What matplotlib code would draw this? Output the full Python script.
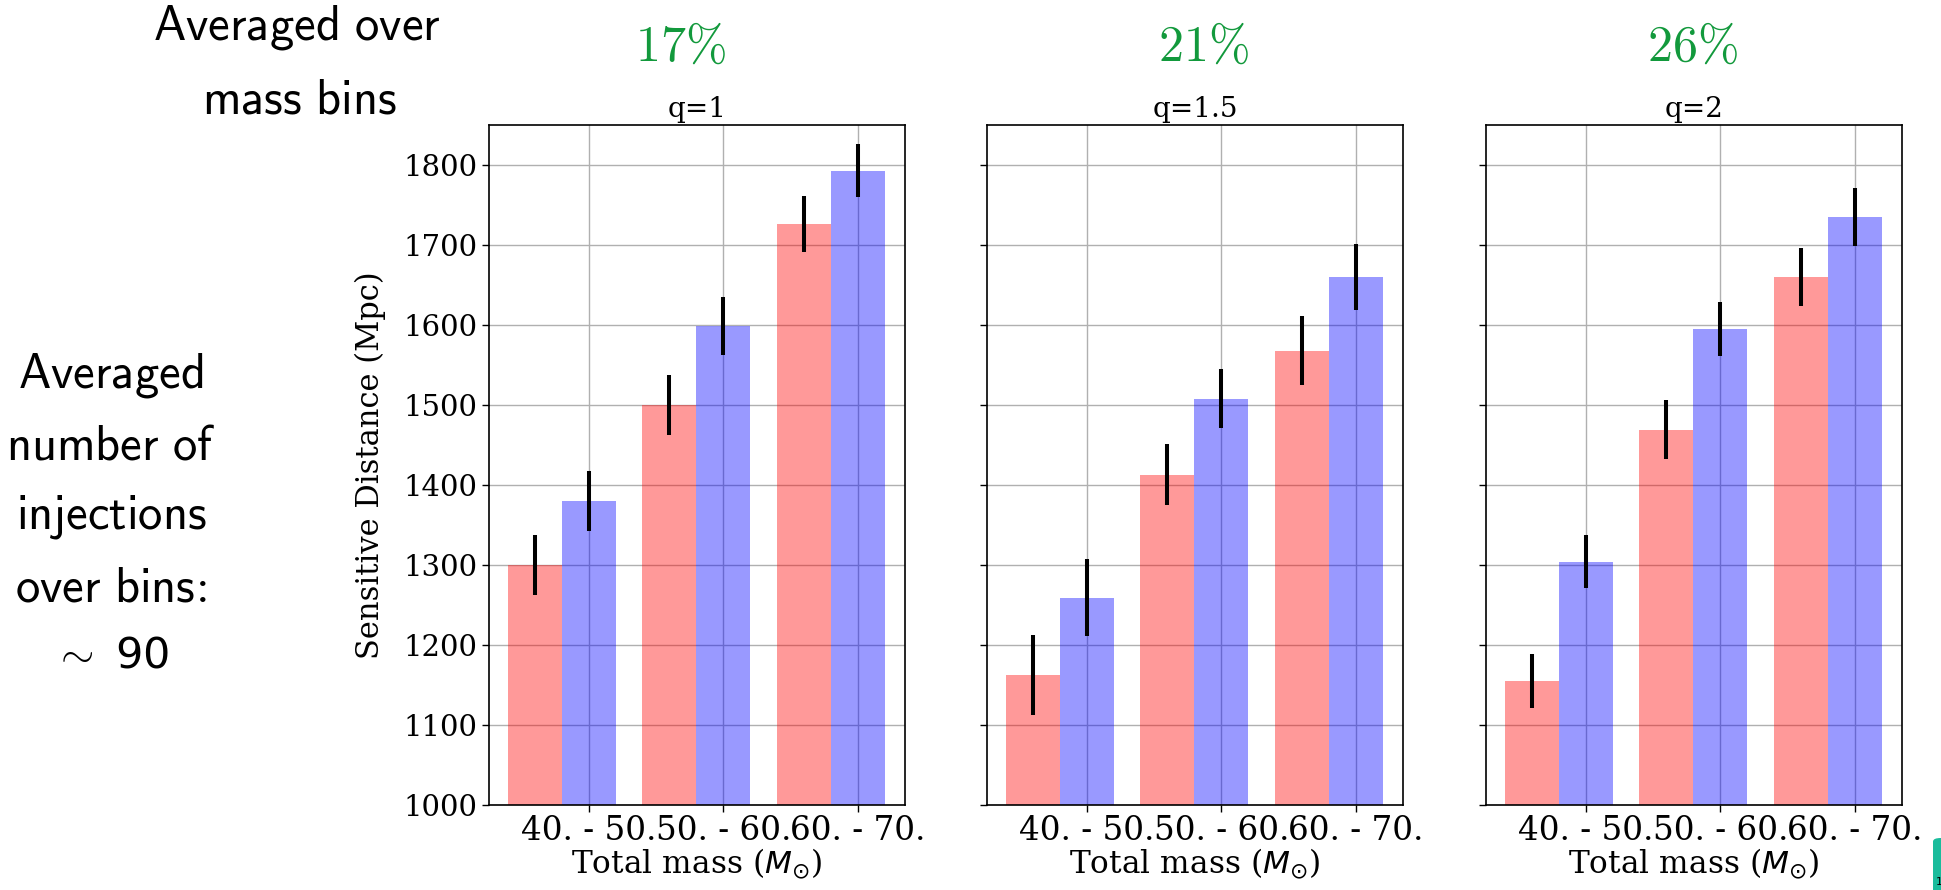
import numpy as np
import matplotlib
matplotlib.use('Agg')
import matplotlib.pyplot as plt
from matplotlib.patches import FancyBboxPatch

# mass bins on the x axis and one panel per mass ratio
mass_bins = ['40. - 50.', '50. - 60.', '60. - 70.']
q_labels = ['q=1', 'q=1.5', 'q=2']
gains = ['17', '21', '26']

# sensitive distance (Mpc) and 1-sigma errors, one row per q
red_dist = [[1300, 1500, 1726], [1162, 1413, 1568], [1155, 1469, 1660]]
red_err = [[38, 37, 35], [50, 38, 43], [34, 37, 36]]
blue_dist = [[1380, 1599, 1793], [1259, 1508, 1660], [1304, 1595, 1735]]
blue_err = [[38, 36, 33], [48, 37, 41], [33, 34, 36]]

side_note = [r'Averaged', r'number\ of', r'injections', r'over\ bins\!:']
n_injections = '90'

plt.rcParams['font.family'] = 'DejaVu Serif'

W, H = 1941, 890
fig = plt.figure(figsize=(W / 100, H / 100), dpi=100)

lefts = [489, 987, 1486]
gain_x = [0.46, 0.52, 0.495]
x = np.arange(len(mass_bins))
width = 0.4

for i in range(3):
    ax = fig.add_axes([lefts[i] / W, 85 / H, 416 / W, 680 / H])
    ax.bar(x - width, red_dist[i], width, color='red', alpha=0.4)
    ax.bar(x, blue_dist[i], width, color='blue', alpha=0.4)
    ax.errorbar(x - width, red_dist[i], yerr=red_err[i], fmt='none',
                ecolor='black', elinewidth=2.9, capsize=0)
    ax.errorbar(x, blue_dist[i], yerr=blue_err[i], fmt='none',
                ecolor='black', elinewidth=2.9, capsize=0)

    ax.set_xlim(-0.74, 2.35)
    ax.set_ylim(1000, 1850)
    ax.set_yticks(np.arange(1000, 1801, 100))
    ax.set_xticks(x)
    ax.set_xticklabels(mass_bins)
    ax.grid(True, color='#b0b0b0', linewidth=1.0)
    ax.set_axisbelow(True)
    ax.tick_params(axis='y', labelsize=21, length=5, width=1)
    ax.tick_params(axis='x', labelsize=23.5, length=5, width=1, pad=2)
    for sp in ax.spines.values():
        sp.set_linewidth(1.2)

    ax.set_title(q_labels[i], fontsize=20, pad=6)
    ax.set_xlabel(r'Total mass ($M_{\odot}$)', fontsize=22.5, labelpad=0)
    if i == 0:
        ax.set_ylabel('Sensitive Distance (Mpc)', fontsize=22, labelpad=12)
    else:
        ax.tick_params(labelleft=False)

    # improvement averaged over the mass bins
    ax.text(gain_x[i], 1.115, r'$%s\%%$' % gains[i], transform=ax.transAxes,
            ha='center', va='center', fontsize=36, color='#12993c',
            math_fontfamily='cm')

# slide annotations on the left
fig.text(297 / W, 1 - 28 / H, r'$\mathsf{Averaged\ over}$', ha='center',
         va='center', fontsize=35, math_fontfamily='cm')
fig.text(299 / W, 1 - 100 / H, r'$\mathsf{mass\ bins}$', ha='center',
         va='center', fontsize=35, math_fontfamily='cm')

for k, line in enumerate(side_note):
    fig.text(111 / W, 1 - (375 + 71 * k) / H, r'$\mathsf{%s}$' % line,
             ha='center', va='center', fontsize=35, math_fontfamily='cm')
fig.text(111 / W, 1 - 656 / H, r'$\sim$ ' + n_injections, ha='center',
         va='center', fontsize=31, family='DejaVu Sans', math_fontfamily='cm')

# page corner marker
fig.patches.append(FancyBboxPatch((1933 / W, -0.05), 0.05, 0.05 + 52 / H,
                                  boxstyle='round,pad=0,rounding_size=0.004',
                                  transform=fig.transFigure,
                                  facecolor='#1abc9c', edgecolor='none'))
fig.text(1936 / W, 1 - 877 / H, '1', fontsize=8, va='top', ha='left',
         family='DejaVu Sans')

fig.savefig('out.png', dpi=100)
